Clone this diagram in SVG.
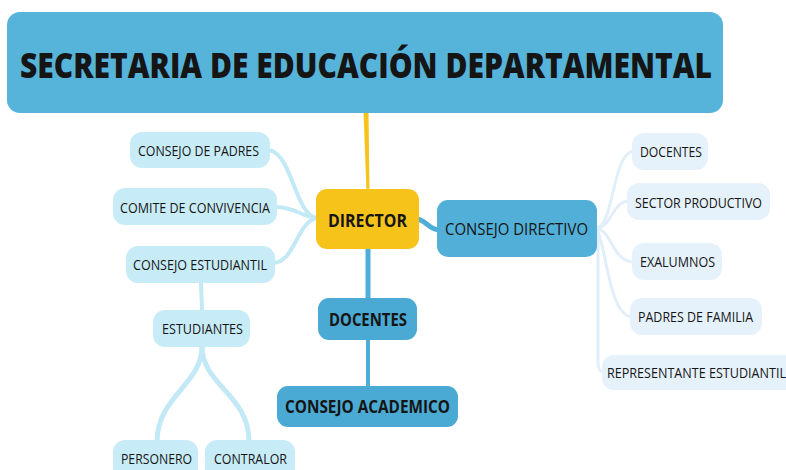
<svg xmlns="http://www.w3.org/2000/svg" width="786" height="470" viewBox="0 0 786 470">
<style>
text{font-family:"Open Sans","Noto Sans","Liberation Sans",sans-serif;fill:#151515}
.b{font-weight:bold}
.title{fill:#56B3DA}
.dir{fill:#F5C31A}
.mid{fill:#52B0D8}
.doc{fill:#4BAAD3}
.lt{fill:#C8ECF7}
.rt{fill:#E6F2FB}
.cb{fill:none;stroke:#4FAED7;stroke-linecap:round}
.cl{fill:none;stroke:#C4E9F6;stroke-linecap:round}
.cr{fill:none;stroke:#E2EFFA;stroke-linecap:round}
</style>
<rect width="786" height="470" fill="#ffffff"/>
<g id="connectors">
<path d="M363.5,112 L368.5,112 L369.5,192 L366.5,192 Z" fill="#F5C31A"/>
<path class="cb" stroke-width="5" d="M368,248 L368,300"/>
<path class="cb" stroke-width="4" d="M368,340 L368,388"/>
<path class="cb" stroke-width="5" d="M416,219 C426,219 428,230 440,230"/>
<path class="cl" stroke-width="4" d="M268,150 C292,152 294,212 316,218"/>
<path class="cl" stroke-width="4" d="M275,207 C295,207 300,216 316,218"/>
<path class="cl" stroke-width="4" d="M273,263 C295,262 296,224 316,218"/>
<path class="cl" stroke-width="4" d="M201,282 C201,292 202,300 202,311"/>
<path class="cl" stroke-width="5" d="M202,346 C202,385 158,395 157,441"/>
<path class="cl" stroke-width="5" d="M202,346 C202,385 249,395 249,441"/>
<path class="cr" stroke-width="3" d="M596,228 C614,228 612,152 634,151"/>
<path class="cr" stroke-width="3" d="M596,228 C612,228 612,201 629,201"/>
<path class="cr" stroke-width="3" d="M596,228 C612,230 612,262 634,262"/>
<path class="cr" stroke-width="3" d="M596,228 C606,240 608,316 632,317"/>
<path class="cr" stroke-width="3" d="M598,236 L598,362 C598,370 600,372 604,372"/>
</g>
<g id="n-title"><rect class="title" x="7" y="12" width="716" height="101" rx="13"/><text x="20" y="78" font-size="35" font-weight="800" fill="#000" textLength="692" lengthAdjust="spacingAndGlyphs">SECRETARIA DE EDUCACIÓN DEPARTAMENTAL</text></g>
<g id="n-director"><rect class="dir" x="316" y="189" width="103" height="60" rx="11"/><text class="b" x="328" y="227" font-size="18" textLength="79" lengthAdjust="spacingAndGlyphs">DIRECTOR</text></g>
<g id="n-consejo-directivo"><rect class="mid" x="437" y="200" width="160" height="57" rx="11"/><text x="445" y="235" font-size="17" textLength="143" lengthAdjust="spacingAndGlyphs">CONSEJO DIRECTIVO</text></g>
<g id="n-docentes"><rect class="doc" x="318" y="298" width="99" height="42" rx="11"/><text class="b" x="329" y="326" font-size="17" textLength="78" lengthAdjust="spacingAndGlyphs">DOCENTES</text></g>
<g id="n-consejo-academico"><rect class="doc" x="277" y="386" width="181" height="41" rx="11"/><text class="b" x="285" y="413" font-size="17" textLength="165" lengthAdjust="spacingAndGlyphs">CONSEJO ACADEMICO</text></g>
<g id="n-consejo-padres"><rect class="lt" x="130" y="132" width="140" height="36" rx="12"/><text x="138" y="156" font-size="14" textLength="121" lengthAdjust="spacingAndGlyphs">CONSEJO DE PADRES</text></g>
<g id="n-comite"><rect class="lt" x="113" y="188" width="164" height="37" rx="12"/><text x="120" y="213" font-size="14" textLength="150" lengthAdjust="spacingAndGlyphs">COMITE DE CONVIVENCIA</text></g>
<g id="n-consejo-estudiantil"><rect class="lt" x="126" y="246" width="149" height="37" rx="12"/><text x="133" y="270" font-size="14" textLength="134" lengthAdjust="spacingAndGlyphs">CONSEJO ESTUDIANTIL</text></g>
<g id="n-estudiantes"><rect class="lt" x="153" y="310" width="97" height="37" rx="12"/><text x="162" y="334" font-size="14" textLength="81" lengthAdjust="spacingAndGlyphs">ESTUDIANTES</text></g>
<g id="n-personero"><rect class="lt" x="113" y="440" width="85" height="40" rx="12"/><text x="121" y="464" font-size="14" textLength="71" lengthAdjust="spacingAndGlyphs">PERSONERO</text></g>
<g id="n-contralor"><rect class="lt" x="205" y="440" width="90" height="40" rx="12"/><text x="214" y="464" font-size="14" textLength="73" lengthAdjust="spacingAndGlyphs">CONTRALOR</text></g>
<g id="n-r-docentes"><rect class="rt" x="632" y="133" width="76" height="37" rx="12"/><text x="640" y="157" font-size="14" textLength="62" lengthAdjust="spacingAndGlyphs">DOCENTES</text></g>
<g id="n-sector"><rect class="rt" x="627" y="183" width="143" height="37" rx="12"/><text x="635" y="208" font-size="14" textLength="127" lengthAdjust="spacingAndGlyphs">SECTOR PRODUCTIVO</text></g>
<g id="n-exalumnos"><rect class="rt" x="632" y="243" width="90" height="37" rx="12"/><text x="640" y="267" font-size="14" textLength="75" lengthAdjust="spacingAndGlyphs">EXALUMNOS</text></g>
<g id="n-padres-familia"><rect class="rt" x="630" y="298" width="132" height="37" rx="12"/><text x="638" y="322" font-size="14" textLength="115" lengthAdjust="spacingAndGlyphs">PADRES DE FAMILIA</text></g>
<g id="n-representante"><rect class="rt" x="602" y="355" width="196" height="35" rx="12"/><text x="607" y="378" font-size="14" textLength="179" lengthAdjust="spacingAndGlyphs">REPRESENTANTE ESTUDIANTIL</text></g>
</svg>
